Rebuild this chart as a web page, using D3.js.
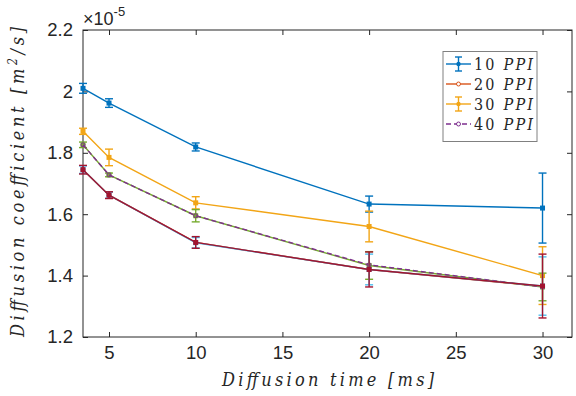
<!DOCTYPE html>
<html>
<head>
<meta charset="utf-8">
<script src="https://cdn.jsdelivr.net/npm/d3@7"></script>
<style>
  html, body { margin: 0; padding: 0; background: #fff; }
  svg { display: block; }
  .tick text { font-family: "Liberation Sans", Helvetica, Arial, sans-serif; }
  .math { font-family: "DejaVu Serif", serif; font-stretch: condensed; }
</style>
</head>
<body>
<svg id="chart" width="576" height="396"></svg>
<script>
// Diffusion times (ms)
const times = [3.5, 5, 10, 20, 30];

// Diffusion coefficients in units of 1e-5 m^2/s, with error half-widths
const ppi10 = [2.010, 1.962, 1.819, 1.633, 1.620];
const ppi10Err = [0.016, 0.014, 0.013, 0.026, 0.114];

const ppi20 = [1.745, 1.662, 1.508, 1.420, 1.365];

const ppi30 = [1.870, 1.785, 1.637, 1.560, 1.400];
const ppi30Err = [0.010, 0.027, 0.020, 0.050, 0.094];

const ppi40 = [1.826, 1.728, 1.595, 1.435, 1.363];

// Additional measurement sets drawn without legend entries
const setGreen = [1.826, 1.728, 1.595, 1.433, 1.363];
const setGreenErr = [0.009, 0.006, 0.020, 0.045, 0.045];
const setCyan = [1.745, 1.662, 1.507, 1.420, 1.366];
const setCyanErr = [0.012, 0.010, 0.017, 0.050, 0.095];
const setRed = [1.745, 1.662, 1.508, 1.420, 1.366];
const setRedErr = [0.014, 0.011, 0.019, 0.057, 0.104];

const yTicks = [1.2, 1.4, 1.6, 1.8, 2, 2.2];
const xTicks = [5, 10, 15, 20, 25, 30];
const legendNames = ["10", "20", "30", "40"];

const colors = {
  blue: "#0072BD", orangeRed: "#D95319", gold: "#F2A516", purple: "#7E2F8E",
  green: "#77AC30", cyan: "#4DBEEE", red: "#A2142F"
};

const svg = d3.select("#chart");
const L = 83, R = 572, T = 30, B = 337;

const x = d3.scaleLinear().domain([3.5, 31.7]).range([L, R]);
const y = d3.scaleLinear().domain([1.2, 2.2]).range([B, T]);

const axisColor = "#262626";
const tickLen = 5;

// plot box
svg.append("rect").attr("x", L).attr("y", T).attr("width", R - L).attr("height", B - T)
  .attr("fill", "none").attr("stroke", axisColor).attr("stroke-width", 1);

// axes with inward ticks
const xAxis = svg.append("g").attr("transform", `translate(0,${B})`)
  .call(d3.axisBottom(x).tickValues(xTicks).tickSize(-tickLen).tickPadding(9));
const xAxisTop = svg.append("g").attr("transform", `translate(0,${T})`)
  .call(d3.axisTop(x).tickValues(xTicks).tickSize(-tickLen).tickFormat(""));
const yAxis = svg.append("g").attr("transform", `translate(${L},0)`)
  .call(d3.axisLeft(y).tickValues(yTicks).tickSize(-tickLen).tickPadding(10).tickFormat(d3.format("")));
const yAxisRight = svg.append("g").attr("transform", `translate(${R},0)`)
  .call(d3.axisRight(y).tickValues(yTicks).tickSize(-tickLen).tickFormat(""));

[xAxis, xAxisTop, yAxis, yAxisRight].forEach(g => {
  g.attr("font-family", null);
  g.select(".domain").remove();
  g.selectAll(".tick line").attr("stroke", axisColor);
  g.selectAll(".tick text").attr("fill", axisColor).attr("font-size", 18.5);
});

// exponent label
const expo = svg.append("text").attr("x", L).attr("y", 25)
  .style("font-family", "'Liberation Sans', Helvetica, Arial, sans-serif")
  .attr("font-size", 18).attr("fill", axisColor);
expo.append("tspan").text("\u00d710");
expo.append("tspan").attr("dy", -9).attr("font-size", 13).text("-5");

// axis titles in math italic
svg.append("text").attr("class", "math")
  .attr("x", 222).attr("y", 386)
  .attr("font-style", "italic").attr("font-size", 18).attr("fill", axisColor)
  .attr("textLength", 212).attr("lengthAdjust", "spacing")
  .text("Diffusion time [ms]");

svg.append("text").attr("class", "math")
  .attr("transform", "translate(24,337) rotate(-90)")
  .attr("font-style", "italic").attr("font-size", 18).attr("fill", axisColor)
  .attr("textLength", 310).attr("lengthAdjust", "spacing")
  .html('Diffusion coefficient [m<tspan dy="-7" font-size="12">2</tspan><tspan dy="7">/s]</tspan>');

const plot = svg.append("g");
const line = d3.line().x((d, i) => x(times[i])).y(d => y(d));

function drawLine(vals, color, dashed) {
  plot.append("path").datum(vals).attr("d", line)
    .attr("fill", "none").attr("stroke", color).attr("stroke-width", 1.4)
    .attr("stroke-dasharray", dashed ? "5,3" : null);
}
function drawErr(vals, errs, color) {
  const g = plot.append("g").attr("stroke", color).attr("stroke-width", 1.4);
  vals.forEach((v, i) => {
    const cx = x(times[i]), y1 = y(v + errs[i]), y2 = y(v - errs[i]);
    g.append("line").attr("x1", cx).attr("x2", cx).attr("y1", y1).attr("y2", y2);
    g.append("line").attr("x1", cx - 4).attr("x2", cx + 4).attr("y1", y1).attr("y2", y1);
    g.append("line").attr("x1", cx - 4).attr("x2", cx + 4).attr("y1", y2).attr("y2", y2);
  });
}
function drawSquares(vals, color) {
  plot.append("g").selectAll("rect").data(vals).join("rect")
    .attr("x", (d, i) => x(times[i]) - 2.5).attr("y", d => y(d) - 2.5)
    .attr("width", 5).attr("height", 5).attr("fill", color);
}
function drawCircles(vals, color) {
  plot.append("g").selectAll("circle").data(vals).join("circle")
    .attr("cx", (d, i) => x(times[i])).attr("cy", d => y(d)).attr("r", 2)
    .attr("fill", "none").attr("stroke", color).attr("stroke-width", 1);
}

// 10 PPI
drawLine(ppi10, colors.blue); drawErr(ppi10, ppi10Err, colors.blue); drawSquares(ppi10, colors.blue);
// 20 PPI
drawLine(ppi20, colors.orangeRed); drawCircles(ppi20, colors.orangeRed);
// 30 PPI
drawLine(ppi30, colors.gold); drawErr(ppi30, ppi30Err, colors.gold); drawSquares(ppi30, colors.gold);
// extra sets
drawLine(setGreen, colors.green); drawErr(setGreen, setGreenErr, colors.green); drawSquares(setGreen, colors.green);
// 40 PPI dashed over the green set
drawLine(ppi40, colors.purple, true); drawCircles(ppi40, colors.purple);
drawLine(setCyan, colors.cyan); drawErr(setCyan, setCyanErr, colors.cyan); drawSquares(setCyan, colors.cyan);
drawLine(setRed, colors.red); drawErr(setRed, setRedErr, colors.red); drawSquares(setRed, colors.red);

// legend
const lg = svg.append("g");
lg.append("rect").attr("x", 443).attr("y", 51.5).attr("width", 94).attr("height", 90)
  .attr("fill", "#fff").attr("stroke", "#808080").attr("stroke-width", 1);
const legendItems = [
  { name: legendNames[0], color: colors.blue, err: true },
  { name: legendNames[1], color: colors.orangeRed, err: false },
  { name: legendNames[2], color: colors.gold, err: true },
  { name: legendNames[3], color: colors.purple, err: false, dashed: true }
];
legendItems.forEach((d, i) => {
  const cy = 64 + i * 20;
  const g = lg.append("g").attr("stroke", d.color).attr("stroke-width", 1.4);
  g.append("line").attr("x1", 446).attr("x2", 471).attr("y1", cy).attr("y2", cy)
    .attr("stroke-dasharray", d.dashed ? "5,3" : null);
  if (d.err) {
    g.append("line").attr("x1", 458.5).attr("x2", 458.5).attr("y1", cy - 7).attr("y2", cy + 7);
    g.append("line").attr("x1", 455).attr("x2", 462).attr("y1", cy - 7).attr("y2", cy - 7);
    g.append("line").attr("x1", 455).attr("x2", 462).attr("y1", cy + 7).attr("y2", cy + 7);
    g.append("circle").attr("cx", 458.5).attr("cy", cy).attr("r", 2.2).attr("fill", d.color).attr("stroke", "none");
  } else {
    g.append("circle").attr("cx", 458.5).attr("cy", cy).attr("r", 2).attr("fill", "#fff").attr("stroke-width", 1);
  }
  const t = lg.append("text").attr("class", "math").attr("x", 474).attr("y", cy + 5.5)
    .attr("font-size", 16).attr("fill", axisColor)
    .attr("textLength", 59).attr("lengthAdjust", "spacing");
  t.append("tspan").text(d.name + " ");
  t.append("tspan").attr("font-style", "italic").text("PPI");
});
</script>
</body>
</html>
